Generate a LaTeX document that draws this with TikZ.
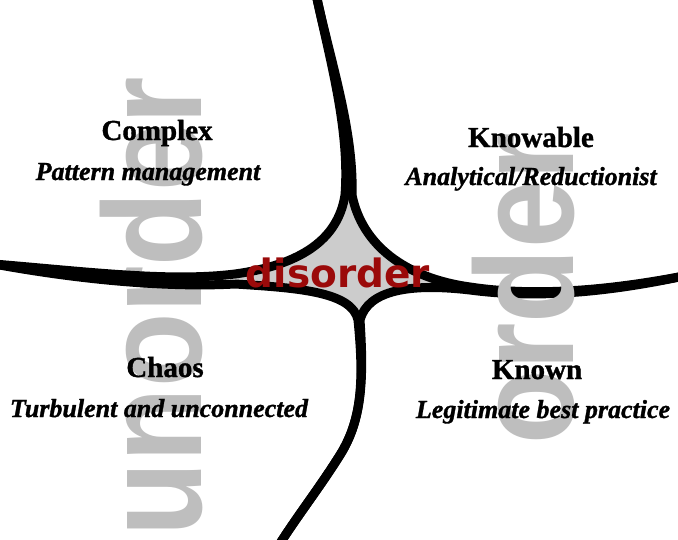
\documentclass[tikz,border=0pt]{standalone}
\usepackage{fontspec}
\usepackage{tikz}
\usetikzlibrary{positioning}
\newfontfamily\headfont{Liberation Serif}[BoldFeatures={FakeBold=1.2}, BoldItalicFeatures={FakeBold=1.2}]
\newfontfamily\bigfont{Liberation Sans}
\newfontfamily\redfont{DejaVu Sans}
\definecolor{bigGrey}{RGB}{190,190,190}
\definecolor{coreGrey}{RGB}{204,204,204}
\definecolor{darkRed}{RGB}{155,10,10}
\tikzstyle{tBorder} = [line width=9pt, line join=round, draw=black]
\tikzstyle{tHead} = [inner sep=0pt, anchor=base, font=\headfont\bfseries\fontsize{29}{29}\selectfont]
\tikzstyle{tSub} = [inner sep=0pt, anchor=base, font=\headfont\bfseries\itshape\fontsize{26}{26}\selectfont]
\tikzstyle{tBig} = [inner sep=0pt, anchor=base west, rotate=90, text=bigGrey, font=\bigfont\bfseries\fontsize{140}{140}\selectfont]

\begin{document}
\begin{tikzpicture}[x=1pt, y=-1pt]
        \useasboundingbox[fill=white] (0,0) rectangle (678,539);
        % cusps of the four arms
        \coordinate (Top) at (316,-6);
        \coordinate (Left) at (-6,264);
        \coordinate (Right) at (684,276);
        \coordinate (Bottom) at (279,545);
        % grey core
        \fill[coreGrey] (345,195) .. controls (338,240) and (300,265) .. (235,274) -- (235,284)
            .. controls (300,288) and (352,292) .. (358,320) -- (360,320)
            .. controls (368,290) and (410,283) .. (470,290) -- (470,287)
            .. controls (405,278) and (362,245) .. (352,195) -- cycle;
        \node[tBig] (Unorder) at (201,537) {\scalebox{0.87}[1]{unorder}};
        % the four boundaries
        \draw[tBorder] (Top) .. controls (330,60) and (350,130) .. (345,195)
            .. controls (338,240) and (300,265) .. (235,274)
            .. controls (170,282) and (90,272) .. (Left);
        \draw[tBorder] (Top) .. controls (330,60) and (354,130) .. (352,195)
            .. controls (362,245) and (405,278) .. (470,287)
            .. controls (530,296) and (600,292) .. (Right);
        \draw[tBorder] (Right) .. controls (600,294) and (530,298) .. (470,290)
            .. controls (410,283) and (368,290) .. (360,320)
            .. controls (364,380) and (362,420) .. (340,455)
            .. controls (320,487) and (298,515) .. (Bottom);
        \draw[tBorder] (Left) .. controls (70,278) and (160,288) .. (235,284)
            .. controls (300,288) and (352,292) .. (358,320)
            .. controls (364,380) and (362,420) .. (340,455)
            .. controls (320,487) and (298,515) .. (Bottom);
        \node[tBig] (Order) at (573,445) {\scalebox{0.87}[1]{order}};
        \node[inner sep=0pt, anchor=base, text=darkRed, font=\redfont\bfseries\fontsize{39}{39}\selectfont] (Disorder) at (338,287) {disorder};
        % domains
        \node[tHead] (Complex) at (157,140) {Complex};
        \node[below=40pt of Complex.base, tSub, xshift=-9pt] (Pattern) {Pattern management};
        \node[tHead] (Knowable) at (531,147) {Knowable};
        \node[below=38pt of Knowable.base, tSub] (Analytical) {Analytical/Reductionist};
        \node[tHead] (Chaos) at (165,377) {Chaos};
        \node[below=40pt of Chaos.base, tSub, xshift=-6pt] (Turbulent) {Turbulent and unconnected};
        \node[tHead] (Known) at (537,379) {Known};
        \node[below=39pt of Known.base, tSub, xshift=6pt] (Legitimate) {Legitimate best practice};
    \end{tikzpicture}
\end{document}
